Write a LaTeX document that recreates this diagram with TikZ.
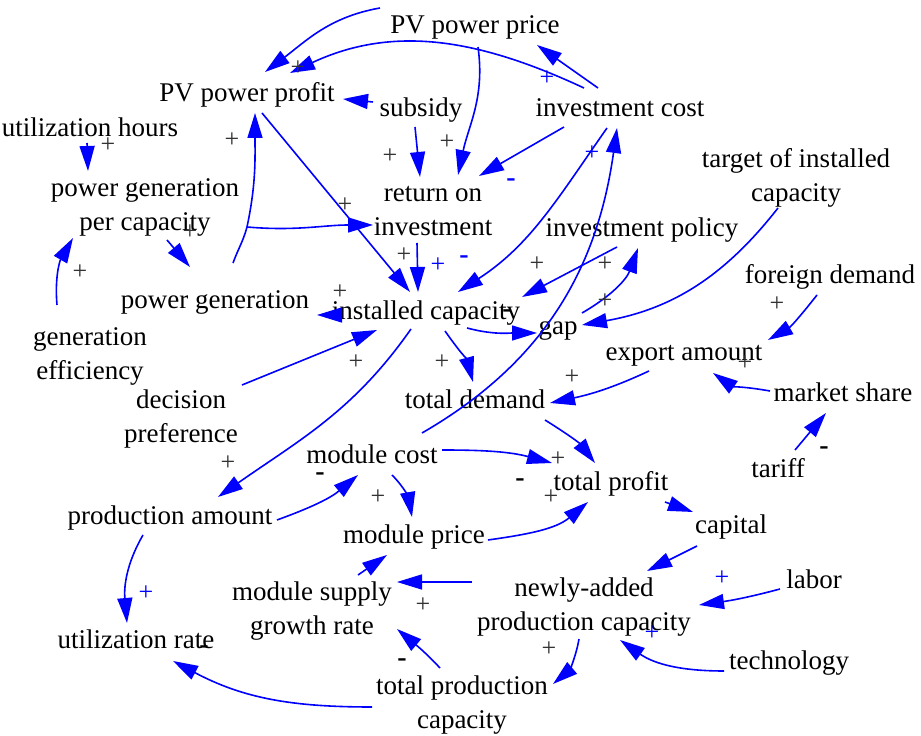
\documentclass[tikz,border=0pt]{standalone}
\usepackage{fontspec}
\setmainfont{Liberation Serif}
\usetikzlibrary{arrows.meta}

\tikzset{
  var/.style={font=\fontsize{27}{34}\selectfont, align=center, inner sep=0pt,
    text height=24pt, text depth=6pt},
  vartwo/.style={var, text height=58pt},
  link/.style={draw=blue, line width=1.6pt, -{Triangle[length=25pt,width=15pt]}},
  sgn/.style={font=\fontsize{26}{26}\selectfont, inner sep=0pt, text=black!80},
  bsgn/.style={sgn, text=blue},
  msgn/.style={font=\fontsize{28}{28}\selectfont\bfseries, inner sep=0pt},
  bmsgn/.style={msgn, text=blue}
}

\begin{document}
\begin{tikzpicture}[x=1pt,y=1pt]
\useasboundingbox (0,0) rectangle (921,736);

% variables
\node[var] (ppprice) at (475,711) {PV power price};
\node[var] (ppprofit) at (247,643) {PV power profit};
\node[var] (subsidy) at (421,628) {subsidy};
\node[var] (invcost) at (620,628) {investment cost};
\node[var] (uhours) at (90,608) {utilization hours};
\node[vartwo] (pgpc) at (145,531) {power generation\\per capacity};
\node[vartwo] (roi) at (433,526) {return on\\investment};
\node[vartwo] (target) at (796,560) {target of installed\\capacity};
\node[var] (invpolicy) at (642,508) {investment policy};
\node[var] (pgen) at (215,436) {power generation};
\node[var] (instcap) at (426,425) {installed capacity};
\node[var] (gap) at (558,410) {gap};
\node[var] (foreign) at (830,461) {foreign demand};
\node[vartwo] (geneff) at (90,382) {generation\\efficiency};
\node[var] (export) at (684,384) {export amount};
\node[vartwo] (decision) at (181,319) {decision\\preference};
\node[var] (totdemand) at (475,336) {total demand};
\node[var] (mshare) at (843,343) {market share};
\node[var] (modcost) at (372,281) {module cost};
\node[var] (totprofit) at (611,254) {total profit};
\node[var] (tariff) at (778,267) {tariff};
\node[var] (prodamount) at (170,220) {production amount};
\node[var] (modprice) at (414,201) {module price};
\node[var] (capital) at (731,211) {capital};
\node[vartwo] (msgr) at (312,127) {module supply\\growth rate};
\node[vartwo] (newcap) at (584,131) {newly-added\\production capacity};
\node[var] (labor) at (814,156) {labor};
\node[var] (utilrate) at (136,96) {utilization rate};
\node[var] (technology) at (789,75) {technology};
\node[vartwo] (totprodcap) at (462,33) {total production\\capacity};

\coordinate (split) at (247,509);

% links
\draw[link] ([shift={(-95,17)}]ppprice.center) to[out=190,in=37] ([shift={(18,21)}]ppprofit.center);
\draw[link] ([shift={(-22,20)}]invcost.center) -- ([shift={(62,-20)}]ppprice.center);
\draw[link] ([shift={(-36,20)}]invcost.center) to[out=155,in=25] ([shift={(43,20)}]ppprofit.center);
\draw[link] ([shift={(3,-22)}]ppprice.center) to[out=-82,in=78] ([shift={(25,35)}]roi.center);
\draw[link] ([shift={(-48,6)}]subsidy.center) -- ([shift={(96,-6)}]ppprofit.center);
\draw[link] ([shift={(-6,-19)}]subsidy.center) -- ([shift={(-13,33)}]roi.center);
\draw[link] ([shift={(-56,-19)}]invcost.center) -- ([shift={(46,34)}]roi.center);
\draw[link] ([shift={(15,-20)}]ppprofit.center) -- ([shift={(-16,19)}]instcap.center);
\draw[link] ([shift={(18,37)}]pgen.center) to[out=70,in=-105] (split) to[out=78,in=-90] ([shift={(8,-20)}]ppprofit.center);
\draw[link] (split) to[out=-5,in=180] ([shift={(-60,-15)}]roi.center);
\draw[link] ([shift={(-3,-15)}]uhours.center) -- ([shift={(-57,34)}]pgpc.center);
\draw[link] ([shift={(22,-35)}]pgpc.center) -- ([shift={(-25,33)}]pgen.center);
\draw[link] ([shift={(-33,49)}]geneff.center) to[out=95,in=-120] ([shift={(-72,-33)}]pgpc.center);
\draw[link] ([shift={(-86,-4)}]instcap.center) -- ([shift={(102,-15)}]pgen.center);
\draw[link] ([shift={(61,32)}]decision.center) -- ([shift={(-49,-19)}]instcap.center);
\draw[link] ([shift={(-16,-33)}]roi.center) -- ([shift={(-8,19)}]instcap.center);
\draw[link] ([shift={(-13,-20)}]invcost.center) to[out=-125,in=33] ([shift={(32,19)}]instcap.center);
\draw[link] ([shift={(50,22)}]modcost.center) to[out=30,in=-98] ([shift={(-3,-20)}]invcost.center);
\draw[link] ([shift={(-25,-19)}]invpolicy.center) -- ([shift={(96,14)}]instcap.center);
\draw[link] ([shift={(24,13)}]gap.center) to[out=30,in=-110] ([shift={(-4,-20)}]invpolicy.center);
\draw[link] ([shift={(41,-17)}]instcap.center) to[out=-15,in=180] ([shift={(-21,-7)}]gap.center);
\draw[link] ([shift={(-18,-32)}]target.center) to[out=-128,in=10] ([shift={(24,1)}]gap.center);
\draw[link] ([shift={(-13,-20)}]foreign.center) to[out=-128,in=30] ([shift={(84,12)}]export.center);
\draw[link] ([shift={(-73,2)}]mshare.center) to[out=170,in=-35] ([shift={(29,-21)}]export.center);
\draw[link] ([shift={(17,19)}]tariff.center) -- ([shift={(-17,-20)}]mshare.center);
\draw[link] ([shift={(-35,-19)}]export.center) to[out=-155,in=12] ([shift={(75,-3)}]totdemand.center);
\draw[link] ([shift={(19,-20)}]instcap.center) to[out=-55,in=105] ([shift={(-2,18)}]totdemand.center);
\draw[link] ([shift={(70,-20)}]totdemand.center) to[out=-32,in=128] ([shift={(-16,19)}]totprofit.center);
\draw[link] ([shift={(70,5)}]modcost.center) to[out=0,in=165] ([shift={(-59,19)}]totprofit.center);
\draw[link] ([shift={(74,-5)}]modprice.center) to[out=8,in=-140] ([shift={(-23,-20)}]totprofit.center);
\draw[link] ([shift={(-15,-18)}]instcap.center) to[out=-125,in=35] ([shift={(48,19)}]prodamount.center);
\draw[link] ([shift={(107,-4)}]prodamount.center) to[out=20,in=-140] ([shift={(-14,-20)}]modcost.center);
\draw[link] ([shift={(20,-20)}]modcost.center) to[out=-45,in=100] ([shift={(-2,18)}]modprice.center);
\draw[link] ([shift={(46,34)}]msgr.center) -- ([shift={(-27,-20)}]modprice.center);
\draw[link] ([shift={(-112,23)}]newcap.center) -- ([shift={(85,27)}]msgr.center);
\draw[link] ([shift={(-22,35)}]totprodcap.center) to[out=133,in=-40] ([shift={(85,-20)}]msgr.center);
\draw[link] ([shift={(-90,-4)}]totprodcap.center) to[out=180,in=-28] ([shift={(37,-21)}]utilrate.center);
\draw[link] ([shift={(-27,-19)}]prodamount.center) to[out=-120,in=95] ([shift={(-9,17)}]utilrate.center);
\draw[link] ([shift={(54,-20)}]totprofit.center) -- ([shift={(-38,13)}]capital.center);
\draw[link] ([shift={(-34,-21)}]capital.center) -- ([shift={(63,34)}]newcap.center);
\draw[link] ([shift={(-34,-9)}]labor.center) to[out=195,in=8] ([shift={(115,0)}]newcap.center);
\draw[link] ([shift={(-65,-10)}]technology.center) to[out=180,in=-35] ([shift={(36,-35)}]newcap.center);
\draw[link] ([shift={(-5,-34)}]newcap.center) to[out=-100,in=40] ([shift={(91,19)}]totprodcap.center);

% polarity signs
\foreach \p in {(298,668),(447,594),(390,580),(232,596),(108,591),(345,531),
  (190,504),(80,464),(404,481),(340,444),(537,472),(605,472),(605,435),
  (356,374),(442,374),(572,359),(777,432),(745,373),(228,273),(558,277),
  (551,239),(378,239),(423,131),(549,87)}
  \node[sgn] at \p {+};
\foreach \p in {(547,658),(592,583),(438,471),(146,143),(722,158),(652,103)}
  \node[bsgn] at \p {+};
\foreach \p in {(507,422),(824,285),(520,253),(320,259),(402,73),(204,86)}
  \node[msgn] at \p {-};
\foreach \p in {(511,553),(464,476)}
  \node[bmsgn] at \p {-};
\end{tikzpicture}
\end{document}
